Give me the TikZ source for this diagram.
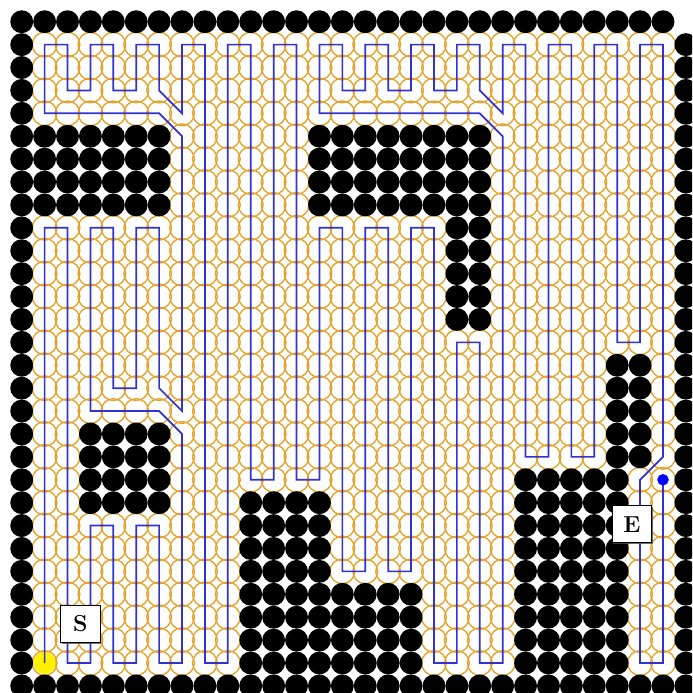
\documentclass[tikz,border=0pt]{standalone}
\usetikzlibrary{shadows}

\definecolor{ringorange}{RGB}{228,162,42}
\definecolor{routeblue}{RGB}{50,50,210}
\newif\ifwall

\begin{document}
\begin{tikzpicture}[scale=0.8,
        ring/.style={draw=ringorange, line width=1.35pt},
        route/.style={routeblue, line width=1.7pt},
        tag/.style={draw=black, fill=white, line width=0.9pt, minimum width=39pt, minimum height=37pt,
            font=\fontsize{23}{26}\selectfont\bfseries,
            drop shadow={shadow xshift=1.2pt, shadow yshift=-1.2pt, fill=black!70, opacity=0.8}}]
        % ==== DEFINITIONS ====
        % blocked cells: first col / last col / first row / last row
        \def\blocks{0/28/0/0, 0/0/1/29, 1/29/29/29, 29/29/1/28,
            1/6/5/8, 13/20/5/8, 19/20/9/13, 3/6/18/21,
            10/13/21/28, 14/17/25/28, 26/27/15/19, 22/26/20/28}

        \clip (-0.948,0.948) rectangle (29.27,-29.31);

        % ==== COVERAGE RINGS ====
        \foreach \cx in {1,...,28} {
            \foreach \ry in {1,...,28} {
                \global\wallfalse
                \foreach \ca/\cb/\ra/\rb in \blocks {
                    \ifnum\cx<\ca\else\ifnum\cx>\cb\else\ifnum\ry<\ra\else\ifnum\ry>\rb\else\global\walltrue\fi\fi\fi\fi
                }
                \ifwall\else\draw[ring] (\cx,-\ry) circle(0.54);\fi
            }
        }

        % ==== OBSTACLES ====
        \foreach \ca/\cb/\ra/\rb in \blocks {
            \foreach \cx in {\ca,...,\cb} {
                \foreach \ry in {\ra,...,\rb} {
                    \fill[black] (\cx,-\ry) circle(0.5);
                }
            }
        }

        % ==== START POINT ====
        \filldraw[yellow] (1,-28) circle(0.47);

        % ==== ROUTE ====
        \draw[route] (1,-28) -- (1,-9) -- (2,-9) -- (2,-28) -- (3,-28) -- (3,-22) -- (4,-22) -- (4,-28)
            -- (5,-28) -- (5,-22) -- (6,-22) -- (6,-28) -- (7,-28) -- (7,-18) -- (6,-17) -- (3,-17)
            -- (3,-9) -- (4,-9) -- (4,-16) -- (5,-16) -- (5,-9) -- (6,-9) -- (6,-16) -- (7,-17)
            -- (7,-5) -- (6,-4) -- (1,-4) -- (1,-1) -- (2,-1) -- (2,-3) -- (3,-3) -- (3,-1)
            -- (4,-1) -- (4,-3) -- (5,-3) -- (5,-1) -- (6,-1) -- (6,-3) -- (7,-4) -- (7,-1)
            -- (8,-1) -- (8,-28) -- (9,-28) -- (9,-1) -- (10,-1) -- (10,-20) -- (11,-20) -- (11,-1)
            -- (12,-1) -- (12,-20) -- (13,-20) -- (13,-9) -- (14,-9) -- (14,-24) -- (15,-24) -- (15,-9)
            -- (16,-9) -- (16,-24) -- (17,-24) -- (17,-9) -- (18,-9) -- (18,-28) -- (19,-28) -- (19,-14)
            -- (20,-14) -- (20,-28) -- (21,-28) -- (21,-5) -- (20,-4) -- (13,-4) -- (13,-1) -- (14,-1)
            -- (14,-3) -- (15,-3) -- (15,-1) -- (16,-1) -- (16,-3) -- (17,-3) -- (17,-1) -- (18,-1)
            -- (18,-3) -- (19,-3) -- (19,-1) -- (20,-1) -- (20,-3) -- (21,-4) -- (21,-1) -- (22,-1)
            -- (22,-19) -- (23,-19) -- (23,-1) -- (24,-1) -- (24,-19) -- (25,-19) -- (25,-1) -- (26,-1)
            -- (26,-14) -- (27,-14) -- (27,-1) -- (28,-1) -- (28,-19) -- (27,-20) -- (27,-28) -- (28,-28)
            -- (28,-20);

        % ==== END POINT ====
        \filldraw[blue] (28,-20) circle(0.24);

        % ==== LABELS ====
        \node[tag] (start) at (2.56,-26.29) {S};
        \node[tag] (goal) at (26.64,-21.94) {E};
\end{tikzpicture}
\end{document}
